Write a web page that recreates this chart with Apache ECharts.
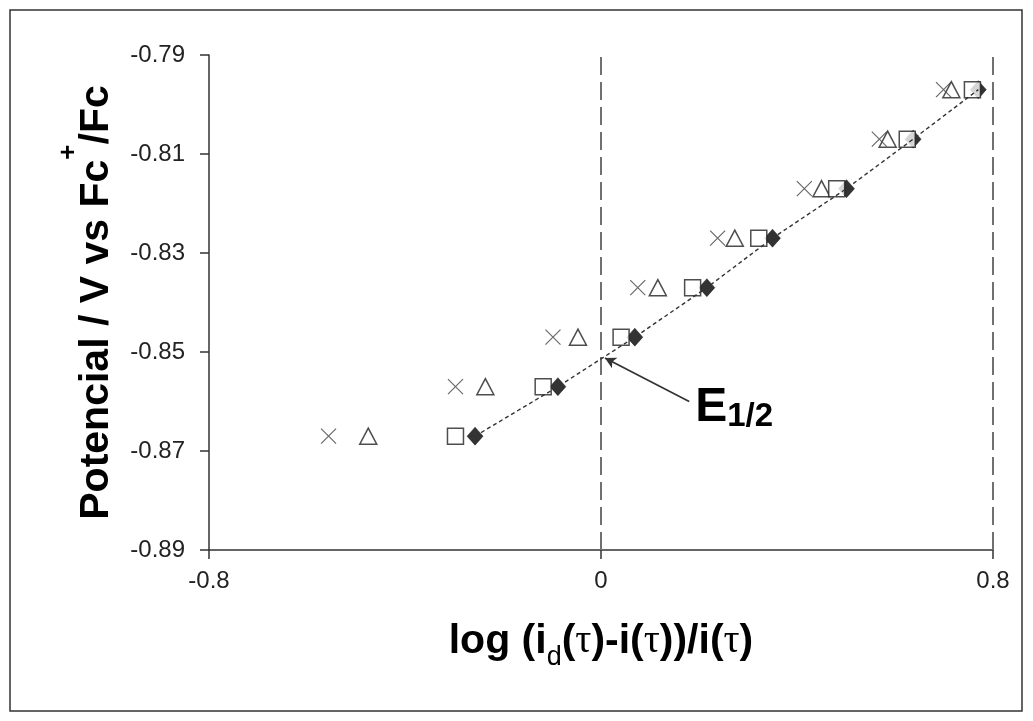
<!DOCTYPE html>
<html>
<head>
<meta charset="utf-8">
<title>Potencial vs log (id-i)/i</title>
<script src="https://cdn.jsdelivr.net/npm/echarts@6/dist/echarts.min.js"></script>
<style>
  html, body { margin: 0; padding: 0; background: #fff; }
  #chart { width: 1033px; height: 721px; }
</style>
</head>
<body>
<div id="chart"></div>
<script>
// Potential levels (V vs Fc+/Fc) shared by every set of points
const potentials = [-0.867, -0.857, -0.847, -0.837, -0.827, -0.817, -0.807, -0.797];

// log((id(t) - i(t)) / i(t)) for each set, one value per potential level
const logDiamond  = [-0.257, -0.088, 0.069, 0.216, 0.350, 0.501, 0.637, 0.770];
const logSquare   = [-0.297, -0.118, 0.041, 0.187, 0.322, 0.481, 0.625, 0.758];
const logTriangle = [-0.475, -0.236, -0.047, 0.116, 0.273, 0.450, 0.585, 0.715];
const logCross    = [-0.556, -0.297, -0.098, 0.075, 0.238, 0.415, 0.568, 0.699];

// Axis ticks
const yTicks = [-0.89, -0.87, -0.85, -0.83, -0.81, -0.79];
const xTicks = [-0.8, 0, 0.8];

// Vertical reference lines and the half-wave potential pointer
const refLines = [0, 0.8];
const halfWaveFrom = [0.18, -0.8600];
const halfWaveTo = [0.008, -0.8512];

const pairs = xs => xs.map((x, i) => [x, potentials[i]]);

const SANS = '"Liberation Sans", Arial, sans-serif';
const SERIF = '"Liberation Serif", "Times New Roman", serif';
const INK = '#333';

const chart = echarts.init(document.getElementById('chart'), null, { renderer: 'canvas' });

chart.setOption({
  animation: false,
  backgroundColor: '#fff',
  grid: { left: 209, right: 40, top: 55, bottom: 171 },
  graphic: [{
    type: 'rect',
    shape: { x: 10, y: 10, width: 1012, height: 701 },
    style: { fill: 'none', stroke: '#333', lineWidth: 1.5 },
    silent: true
  }],
  xAxis: {
    type: 'value',
    min: xTicks[0],
    max: xTicks[xTicks.length - 1],
    interval: 0.8,
    splitLine: { show: false },
    axisLine: { onZero: false, lineStyle: { color: INK, width: 1.5 } },
    axisTick: { show: true, length: 9, lineStyle: { color: INK, width: 1.5 } },
    axisLabel: {
      margin: 19,
      fontSize: 24,
      fontFamily: SANS,
      color: '#222',
      formatter: v => (Math.abs(v) < 1e-9 ? '0' : String(+v.toFixed(1)))
    },
    name: '{b|log (i}{d|d}{b|(}{t|\u03c4}{b|)-i(}{t|\u03c4}{b|))/i(}{t|\u03c4}{b|)}',
    nameLocation: 'middle',
    nameGap: 71,
    nameTextStyle: {
      rich: {
        b: { fontSize: 41, fontWeight: 'bold', fontFamily: SANS, color: '#000', lineHeight: 50, verticalAlign: 'top' },
        d: { fontSize: 27, fontFamily: SANS, color: '#000', lineHeight: 30, verticalAlign: 'bottom' },
        t: { fontSize: 40, fontFamily: SERIF, color: '#000', lineHeight: 50, verticalAlign: 'top' }
      }
    }
  },
  yAxis: {
    type: 'value',
    min: yTicks[0],
    max: yTicks[yTicks.length - 1],
    splitLine: { show: false },
    axisLine: { onZero: false, lineStyle: { color: INK, width: 1.5 } },
    axisTick: { show: true, length: 9, customValues: yTicks, lineStyle: { color: INK, width: 1.5 } },
    axisLabel: {
      customValues: yTicks,
      margin: 24,
      fontSize: 24,
      fontFamily: SANS,
      color: '#222',
      formatter: v => v.toFixed(2)
    },
    name: '{b|Potencial / V vs Fc}{s|+}{b|/Fc}',
    nameLocation: 'middle',
    nameGap: 92,
    nameTextStyle: {
      rich: {
        b: { fontSize: 41, fontWeight: 'bold', fontFamily: SANS, color: '#000', lineHeight: 50, verticalAlign: 'bottom' },
        // small box height lifts the plus sign above the cap line
        s: { fontSize: 26, fontWeight: 'bold', fontFamily: SANS, color: '#000', lineHeight: 50, height: 4, verticalAlign: 'top' }
      }
    }
  },
  series: [
    {
      name: 'diamond',
      type: 'scatter',
      z: 2,
      symbol: 'diamond',
      symbolSize: [16, 18],
      itemStyle: { color: '#000', borderColor: '#000', borderWidth: 0.5 },
      data: pairs(logDiamond),
      markLine: {
        silent: true,
        symbol: ['none', 'none'],
        label: { show: false },
        lineStyle: { color: '#707070', width: 2, type: [18, 7] },
        data: refLines.map(x => ({ xAxis: x }))
      }
    },
    {
      name: 'triangle',
      type: 'scatter',
      z: 3,
      symbol: 'triangle',
      symbolSize: [17, 16],
      itemStyle: { color: '#fff', borderColor: '#222', borderWidth: 1.5 },
      data: pairs(logTriangle)
    },
    {
      name: 'square',
      type: 'scatter',
      z: 4,
      symbol: 'rect',
      symbolSize: 16,
      itemStyle: { color: '#fff', borderColor: '#222', borderWidth: 1.5 },
      data: pairs(logSquare)
    },
    {
      name: 'cross',
      type: 'scatter',
      z: 5,
      symbol: 'path://M0,0L10,10M10,0L0,10',
      symbolSize: 15,
      itemStyle: { color: 'none', borderColor: '#444', borderWidth: 1.2 },
      data: pairs(logCross)
    },
    {
      name: 'diamond trace',
      type: 'line',
      z: 6,
      showSymbol: false,
      symbol: 'none',
      lineStyle: { color: '#333', width: 1.4, type: [4, 3] },
      data: pairs(logDiamond),
      markLine: {
        silent: true,
        symbol: ['none', 'arrow'],
        symbolSize: [9, 11],
        label: { show: false },
        lineStyle: { color: '#333', width: 1.8, type: 'solid' },
        data: [[{ coord: halfWaveFrom }, { coord: halfWaveTo }]]
      },
      markPoint: {
        silent: true,
        symbol: 'circle',
        symbolSize: 0,
        label: {
          show: true,
          position: 'right',
          distance: 6,
          offset: [0, 7],
          formatter: '{e|E}{s|1/2}',
          rich: {
            e: { fontSize: 48, fontWeight: 'bold', fontFamily: SANS, color: '#000', lineHeight: 50, verticalAlign: 'top' },
            s: { fontSize: 33, fontWeight: 'bold', fontFamily: SANS, color: '#000', lineHeight: 26, verticalAlign: 'bottom' }
          }
        },
        data: [{ coord: halfWaveFrom }]
      }
    }
  ]
});
</script>
</body>
</html>
